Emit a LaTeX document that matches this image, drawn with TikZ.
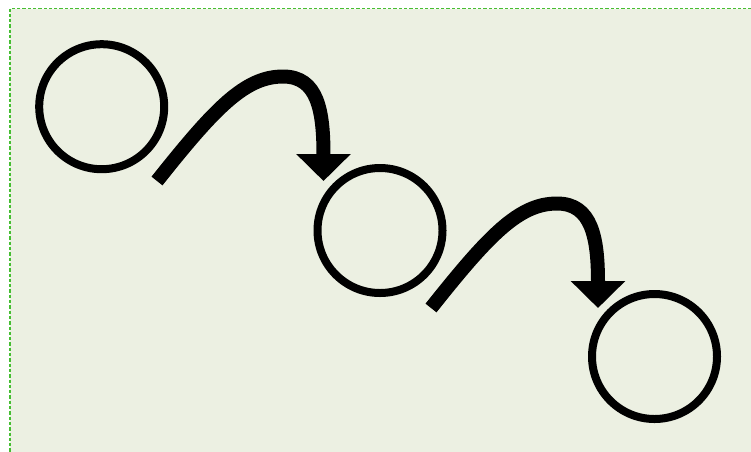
\documentclass[tikz,border=0pt]{standalone}
\usetikzlibrary{arrows.meta}
\definecolor{bgfill}{RGB}{236,240,226}
\definecolor{frameg}{RGB}{70,190,50}
\tikzset{
  ring/.style={circle, draw=black, line width=8pt, minimum size=125pt, inner sep=0pt},
  bigarrow/.style={line width=14pt, line cap=butt, -{Triangle[width=53pt,length=27pt]}},
}
\begin{document}
\begin{tikzpicture}[x=1pt,y=-1pt]
\useasboundingbox (0,0) rectangle (751,451);
\fill[white] (0,0) rectangle (751,451);
\draw[fill=bgfill, draw=frameg, line width=1.3pt, dash pattern=on 3.3pt off 2pt] (10,8.5) rectangle (770,470);
\node[ring] (c1) at (101.7,106.7) {};
\node[ring] (c2) at (380,230.5) {};
\node[ring] (c3) at (654.5,356.5) {};
\coordinate (s1) at (157,181);
\coordinate (p1) at (283,76.5);
\coordinate (t1) at (323.5,181);
\coordinate (s2) at (431,308);
\coordinate (p2) at (557,203.5);
\coordinate (t2) at (598,308);
\draw[bigarrow] (s1) .. controls ([shift={(58,-73)}]s1) and ([shift={(-38,0)}]p1) .. (p1)
  .. controls ([shift={(35,0)}]p1) and ([shift={(0,-70)}]t1) .. (t1);
\draw[bigarrow] (s2) .. controls ([shift={(58,-73)}]s2) and ([shift={(-38,0)}]p2) .. (p2)
  .. controls ([shift={(35,0)}]p2) and ([shift={(0,-70)}]t2) .. (t2);
\end{tikzpicture}
\end{document}
